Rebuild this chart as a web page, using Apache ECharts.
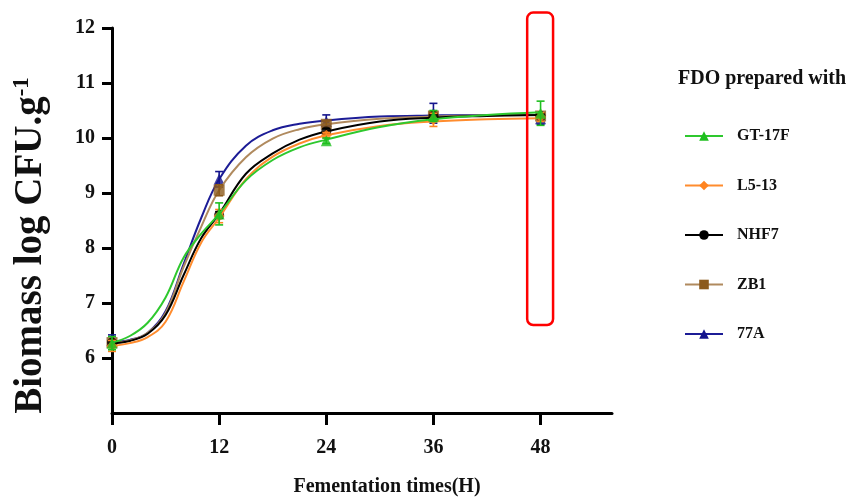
<!DOCTYPE html>
<html>
<head>
<meta charset="utf-8">
<script src="https://cdn.jsdelivr.net/npm/echarts@6/dist/echarts.min.js"></script>
<style>html,body{margin:0;padding:0;background:#fff;}#c{width:851px;height:501px;}</style>
</head>
<body>
<div id="c"></div>
<script>
// ---- data ----
const seriesNames = ['GT-17F', 'L5-13', 'NHF7', 'ZB1', '77A'];
const sampleHours = [0, 12, 24, 36, 48];
const gt17fMean = [6.27, 8.62, 9.95, 10.40, 10.45];
const gt17fErr  = [0.12, 0.20, 0.05, 0.10, 0.22];
const l513Mean  = [6.22, 8.58, 10.05, 10.33, 10.38];
const l513Err   = [0.10, 0.12, 0.05, 0.12, 0.08];
const nhf7Mean  = [6.28, 8.60, 10.12, 10.40, 10.40];
const nhf7Err   = [0.05, 0.06, 0.05, 0.05, 0.05];
const zb1Mean   = [6.28, 9.05, 10.25, 10.40, 10.40];
const zb1Err    = [0.05, 0.10, 0.06, 0.08, 0.06];
const a77Mean   = [6.32, 9.25, 10.30, 10.45, 10.35];
const a77Err    = [0.10, 0.14, 0.12, 0.18, 0.10];

// fitted curves at these hours
const curveHours = [0, 2, 4, 6, 8, 10, 12, 15, 18, 21, 24, 30, 36, 42, 48];
const gt17fCurve = [6.28, 6.40, 6.64, 7.10, 7.82, 8.26, 8.62, 9.23, 9.60, 9.83, 9.97, 10.20, 10.34, 10.42, 10.47];
const l513Curve  = [6.22, 6.27, 6.38, 6.66, 7.38, 8.10, 8.55, 9.25, 9.66, 9.90, 10.05, 10.22, 10.30, 10.34, 10.36];
const nhf7Curve  = [6.27, 6.31, 6.44, 6.78, 7.50, 8.18, 8.62, 9.35, 9.72, 9.97, 10.12, 10.30, 10.37, 10.40, 10.42];
const zb1Curve   = [6.28, 6.32, 6.46, 6.82, 7.65, 8.39, 9.05, 9.65, 9.99, 10.16, 10.25, 10.35, 10.39, 10.41, 10.42];
const a77Curve   = [6.30, 6.33, 6.46, 6.85, 7.70, 8.55, 9.25, 9.86, 10.14, 10.26, 10.32, 10.39, 10.41, 10.42, 10.42];

const xTicks = [0, 12, 24, 36, 48];
const yTicks = [6, 7, 8, 9, 10, 11, 12];
// highlight box around the 48 h samples: [x0, y0, x1, y1]
const highlightBox = [46.5, 12.28, 49.4, 6.60];

// ---- build ----
const FONT = 'Liberation Serif';
const strains = [
  {name: 'GT-17F', mean: gt17fMean, err: gt17fErr, curve: gt17fCurve, line: '#2ec82e', mark: '#1fbf1f', symbol: 'triangle', size: 11},
  {name: 'L5-13',  mean: l513Mean,  err: l513Err,  curve: l513Curve,  line: '#ff8c2e', mark: '#ff8420', symbol: 'diamond', size: 11},
  {name: 'NHF7',   mean: nhf7Mean,  err: nhf7Err,  curve: nhf7Curve,  line: '#000000', mark: '#000000', symbol: 'circle', size: 10},
  {name: 'ZB1',    mean: zb1Mean,   err: zb1Err,   curve: zb1Curve,   line: '#b08a5e', mark: '#8c5a1c', symbol: 'rect', size: 11},
  {name: '77A',    mean: a77Mean,   err: a77Err,   curve: a77Curve,   line: '#1c1c96', mark: '#14148c', symbol: 'triangle', size: 11}
];

const series = [];
strains.forEach(function (s, i) {
  const z = 10 - i * 2;
  series.push({
    name: s.name, type: 'line', smooth: 0.4,
    data: curveHours.map(function (h, k) { return [h, s.curve[k]]; }),
    showSymbol: false, symbol: s.symbol, symbolSize: s.size,
    lineStyle: {color: s.line, width: 2}, itemStyle: {color: s.mark},
    z: z, silent: true
  });
  series.push({
    name: s.name, type: 'custom', z: z + 1, silent: true,
    data: sampleHours.map(function (h, k) { return [h, s.mean[k] - s.err[k], s.mean[k] + s.err[k]]; }),
    renderItem: function (params, api) {
      const lo = api.coord([api.value(0), api.value(1)]);
      const hi = api.coord([api.value(0), api.value(2)]);
      const w = 4;
      const st = {stroke: s.mark, lineWidth: 1.6};
      return {type: 'group', children: [
        {type: 'line', shape: {x1: lo[0], y1: lo[1], x2: hi[0], y2: hi[1]}, style: st},
        {type: 'line', shape: {x1: lo[0] - w, y1: lo[1], x2: lo[0] + w, y2: lo[1]}, style: st},
        {type: 'line', shape: {x1: hi[0] - w, y1: hi[1], x2: hi[0] + w, y2: hi[1]}, style: st}
      ]};
    }
  });
  series.push({
    name: s.name, type: 'scatter', z: z + 1, silent: true,
    symbol: s.symbol, symbolSize: s.size,
    data: sampleHours.map(function (h, k) { return [h, s.mean[k]]; }),
    itemStyle: {color: s.mark}
  });
});
series.push({
  type: 'custom', z: 20, silent: true, clip: false,
  data: [highlightBox],
  renderItem: function (params, api) {
    const p0 = api.coord([api.value(0), api.value(1)]);
    const p1 = api.coord([api.value(2), api.value(3)]);
    return {type: 'rect', shape: {x: p0[0], y: p0[1], width: p1[0] - p0[0], height: p1[1] - p0[1], r: 6},
      style: {fill: 'none', stroke: '#ff0000', lineWidth: 2.5}};
  }
});

const chart = echarts.init(document.getElementById('c'), null, {renderer: 'canvas'});
chart.setOption({
  animation: false,
  backgroundColor: '#ffffff',
  title: {
    text: 'FDO prepared with', left: 673, top: 64,
    textStyle: {fontFamily: FONT, fontWeight: 'bold', fontSize: 20, color: '#111'}
  },
  legend: {
    data: seriesNames, orient: 'vertical', left: 679, top: 123,
    itemWidth: 38, itemHeight: 12, itemGap: 33.5,
    textStyle: {fontFamily: FONT, fontWeight: 'bold', fontSize: 16, color: '#111', padding: [0, 0, 0, 9]},
    selectedMode: false
  },
  grid: {left: 112, top: 28, width: 500, height: 385, containLabel: false, outerBoundsMode: 'none'},
  xAxis: {
    type: 'value', min: 0, max: 56, interval: 12,
    name: 'Fementation times(H)', nameLocation: 'middle', nameGap: 64,
    nameTextStyle: {fontFamily: FONT, fontWeight: 'bold', fontSize: 20, color: '#111', padding: [0, 0, 0, 50]},
    axisLine: {lineStyle: {color: '#000', width: 3}},
    axisTick: {length: 12, lineStyle: {color: '#000', width: 3}, customValues: xTicks},
    axisLabel: {fontFamily: FONT, fontWeight: 'bold', fontSize: 20, color: '#111', margin: 25, customValues: xTicks},
    splitLine: {show: false}
  },
  yAxis: {
    type: 'value', min: 5, max: 12, interval: 1,
    name: '{a|Biomass log CFU.g}{s|-1}', nameLocation: 'middle', nameGap: 62, nameRotate: 90,
    nameTextStyle: {
      padding: [0, 50, 0, 0],
      rich: {
        a: {fontFamily: FONT, fontWeight: 'bold', fontSize: 39, color: '#111'},
        s: {fontFamily: FONT, fontWeight: 'bold', fontSize: 23, color: '#111', verticalAlign: 'top'}
      }
    },
    axisLine: {lineStyle: {color: '#000', width: 3}},
    axisTick: {length: 10, lineStyle: {color: '#000', width: 3}, customValues: yTicks},
    axisLabel: {fontFamily: FONT, fontWeight: 'bold', fontSize: 20, color: '#111', margin: 17, customValues: yTicks},
    splitLine: {show: false}
  },
  series: series
});
</script>
</body>
</html>
